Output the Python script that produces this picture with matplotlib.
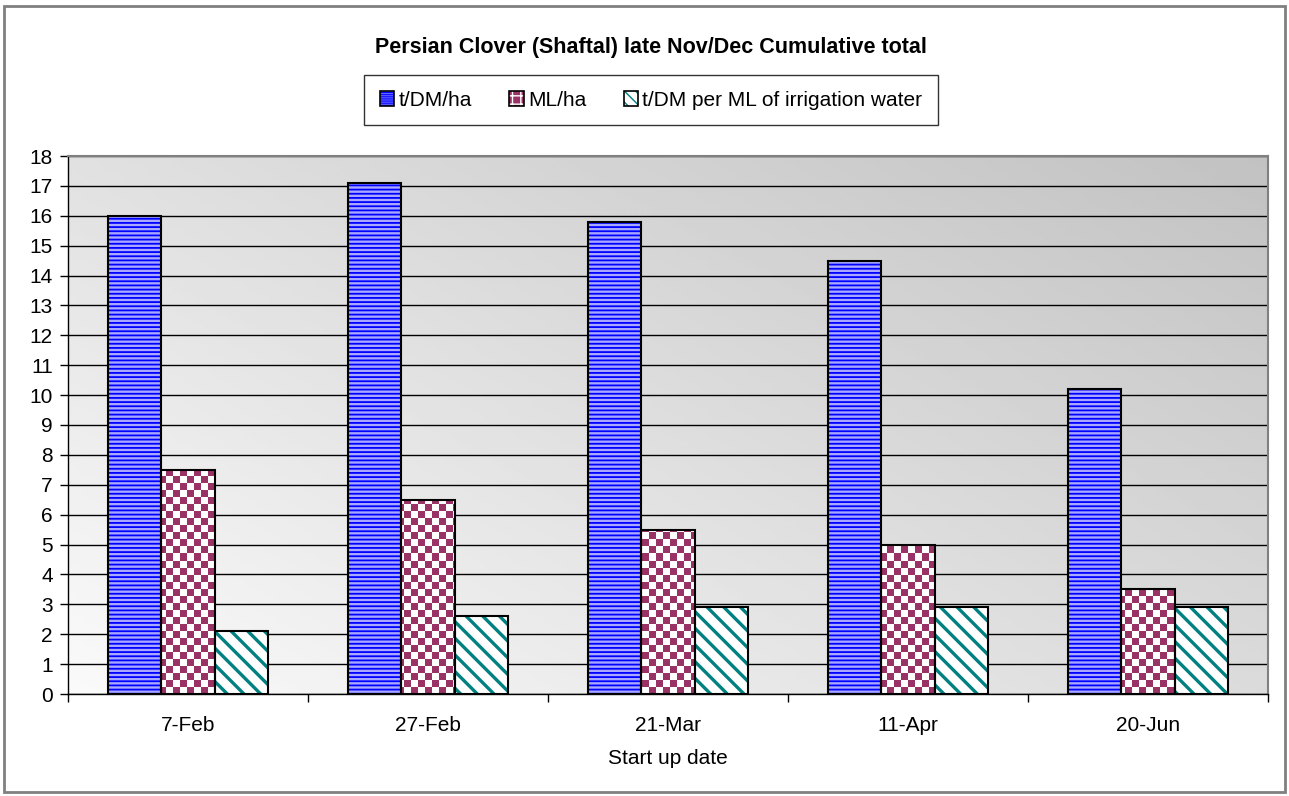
import numpy as np
import matplotlib
matplotlib.use('Agg')
import matplotlib.pyplot as plt
from matplotlib.patches import Rectangle

plt.rcParams['font.family'] = ['Liberation Sans', 'DejaVu Sans']

dates = ['7-Feb', '27-Feb', '21-Mar', '11-Apr', '20-Jun']
t_dm_ha = [16.0, 17.1, 15.8, 14.5, 10.2]
ml_ha = [7.5, 6.5, 5.5, 5.0, 3.5]
t_dm_per_ml = [2.1, 2.6, 2.9, 2.9, 2.9]

fs = 15

fig = plt.figure(figsize=(12.89, 7.96), dpi=100)
ax = fig.add_axes([68 / 1289, 1 - 694 / 796, 1200 / 1289, 538 / 796])

# outer chart frame
fig.patches.append(Rectangle((4 / 1289, 4 / 796), 1281 / 1289, 786 / 796,
                             transform=fig.transFigure, fill=False,
                             edgecolor='#808080', linewidth=2))

ax.set_xlim(-0.5, 4.5)
ax.set_ylim(0, 18)

# grey diagonal gradient for the plot area
gx, gy = np.meshgrid(np.linspace(0, 1, 200), np.linspace(0, 1, 200))
grad = 0.98 - 0.22 * (0.55 * gx + 0.45 * gy)
ax.imshow(grad, cmap='gray', vmin=0, vmax=1, extent=(-0.5, 4.5, 0, 18),
          origin='lower', aspect='auto', zorder=0, interpolation='bilinear')

ax.set_yticks(range(0, 19))
ax.yaxis.grid(True, color='black', linewidth=1)
ax.set_axisbelow(True)

x = np.arange(len(dates))
w = 0.2222


def hatched_bars(xpos, vals, face, hatch, hcolor, hlw):
    with plt.rc_context({'hatch.linewidth': hlw}):
        bars = ax.bar(xpos, vals, w, color=face, edgecolor=hcolor,
                      hatch=hatch, linewidth=0, zorder=2)
    for b in bars:
        try:
            b.set_hatch_linewidth(hlw)
        except AttributeError:
            pass
    ax.bar(xpos, vals, w, fill=False, edgecolor='black', linewidth=1.5, zorder=4)
    return bars


blue = hatched_bars(x - w, t_dm_ha, '#a8a8ff', '----', '#0000ff', 1.3)

# checkerboard fill for ML/ha
cw = 7 * 5 / 1200
ch = 7 * 18 / 538
nx = int(5 / cw) + 1
ny = int(18 / ch) + 1
checker = (np.add.outer(np.arange(ny), np.arange(nx)) % 2).astype(float)
red_bars = ax.bar(x, ml_ha, w, color='white', linewidth=0, zorder=2)
for b in red_bars:
    im = ax.imshow(checker, cmap=matplotlib.colors.ListedColormap(['white', '#993366']),
                   extent=(-0.5, -0.5 + nx * cw, 0, ny * ch), origin='lower',
                   aspect='auto', interpolation='nearest', zorder=3)
    im.set_clip_path(b)
ax.bar(x, ml_ha, w, fill=False, edgecolor='black', linewidth=1.5, zorder=4)

teal = hatched_bars(x + w, t_dm_per_ml, 'white', '\\\\', '#008080', 2.4)

ax.set_xlim(-0.5, 4.5)
ax.set_ylim(0, 18)

ax.set_xticks(x)
ax.set_xticklabels(dates, fontsize=fs)
ax.set_xticks(np.arange(-0.5, 5, 1), minor=True)
ax.tick_params(axis='x', which='major', length=0, pad=16)
ax.tick_params(axis='x', which='minor', length=6, width=1, color='black')
ax.tick_params(axis='y', length=6, width=1, labelsize=fs, pad=5)
ax.set_xlabel('Start up date', fontsize=fs, labelpad=10)

for side in ['top', 'right']:
    ax.spines[side].set_color('#808080')
    ax.spines[side].set_linewidth(1.5)
for side in ['left', 'bottom']:
    ax.spines[side].set_color('black')
    ax.spines[side].set_linewidth(1)

fig.text(651 / 1289, 1 - 47 / 796, 'Persian Clover (Shaftal) late Nov/Dec Cumulative total',
         ha='center', va='center', fontsize=15.5, fontweight='bold')

# legend handles: hatch patch plus black outline
def handle(face, hatch, hcolor):
    p = Rectangle((0, 0), 1, 1, facecolor=face, hatch=hatch, edgecolor=hcolor, linewidth=0)
    o = Rectangle((0, 0), 1, 1, fill=False, edgecolor='black', linewidth=1.2)
    return (p, o)


handles = [handle('#a8a8ff', '--------', '#0000ff'),
           handle('#993366', '++', 'white'),
           handle('white', '\\\\\\', '#008080')]
leg = fig.legend(handles, ['t/DM/ha', 'ML/ha', 't/DM per ML of irrigation water'],
                 loc='center', bbox_to_anchor=(651 / 1289, 1 - 100 / 796), ncol=3,
                 fontsize=fs, frameon=True, fancybox=False, edgecolor='black',
                 handlelength=0.7, handleheight=0.7, handletextpad=0.2,
                 columnspacing=1.8, borderpad=0.75, borderaxespad=0)
leg.get_frame().set_linewidth(1)

fig.savefig('out.png', dpi=100)
